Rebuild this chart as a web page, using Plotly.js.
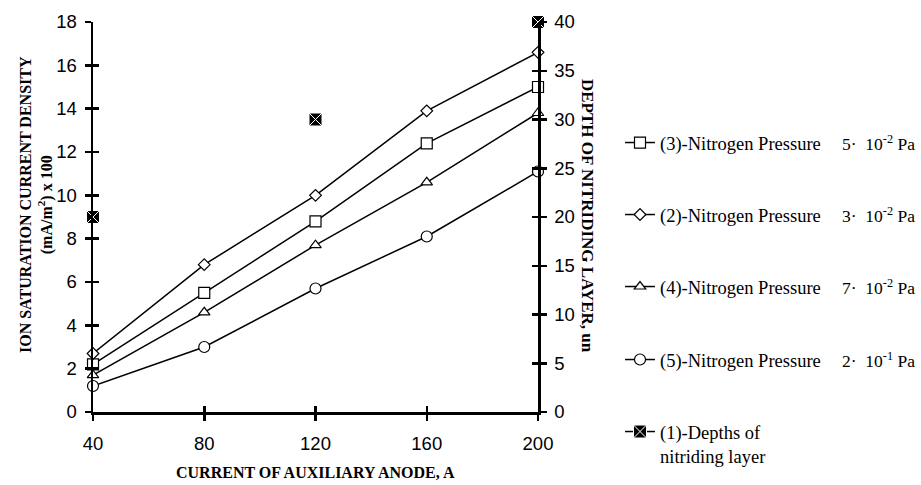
<!DOCTYPE html>
<html>
<head>
<meta charset="utf-8">
<script src="https://cdn.plot.ly/plotly-3.0.1.min.js"></script>
<style>html,body{margin:0;padding:0;background:#fff;}#chart{width:921px;height:485px;}</style>
</head>
<body>
<div id="chart"></div>
<script>
// ---- data ----
var current = [40, 80, 120, 160, 200];
var p3 = [2.2, 5.5, 8.8, 12.4, 15.0];   // 5·10^-2 Pa (square)
var p2 = [2.7, 6.8, 10.0, 13.9, 16.6];  // 3·10^-2 Pa (diamond)
var p4 = [1.7, 4.6, 7.7, 10.6, 13.8];   // 7·10^-2 Pa (triangle)
var p5 = [1.2, 3.0, 5.7, 8.1, 11.1];    // 2·10^-1 Pa (circle)
var depthCurrent = [40, 120, 200];
var depth = [20, 30, 40];               // depth of nitriding layer (right axis)
var seriesNames = ['(3)-Nitrogen Pressure', '(2)-Nitrogen Pressure', '(4)-Nitrogen Pressure', '(5)-Nitrogen Pressure', '(1)-Depths of<br>nitriding layer'];
var pressureLabels = ['5\u00b7  10<sup>-2</sup> Pa', '3\u00b7  10<sup>-2</sup> Pa', '7\u00b7  10<sup>-2</sup> Pa', '2\u00b7  10<sup>-1</sup> Pa'];
var xTicks = [40, 80, 120, 160, 200];
var leftTicks = [0, 2, 4, 6, 8, 10, 12, 14, 16, 18];
var rightTicks = [0, 5, 10, 15, 20, 25, 30, 35, 40];

// ---- geometry (pixels) ----
var W = 921, H = 485;
var L = 93, R = 538, T = 22, B = 412;
function px(xp) { return (xp - L) / (R - L); }
function py(yp) { return (B - yp) / (B - T); }

var serif = 'Liberation Serif, Times New Roman, serif';
var sans = 'Liberation Sans, Arial, sans-serif';
var lineW = 1.5;

function lineTrace(y, name, sym, size, leg) {
  return {
    x: current, y: y, name: name, type: 'scatter', mode: 'lines+markers',
    line: {color: '#000', width: lineW},
    marker: {symbol: sym, size: size, color: '#fff', line: {color: '#000', width: 1.2}},
    cliponaxis: false, legend: leg
  };
}

var depthMarker = {symbol: 'square-x', size: 13, color: '#000', line: {color: '#fff', width: 1}};

var traces = [
  lineTrace(p3, seriesNames[0], 'square', 11, 'legend'),
  lineTrace(p2, seriesNames[1], 'diamond', 9, 'legend2'),
  lineTrace(p4, seriesNames[2], 'triangle-up', 10, 'legend3'),
  lineTrace(p5, seriesNames[3], 'circle', 11, 'legend4'),
  {
    x: depthCurrent, y: depth, name: seriesNames[4], type: 'scatter', mode: 'markers',
    yaxis: 'y2', marker: depthMarker, cliponaxis: false, showlegend: false
  },
  // legend entry for the depth series (line + marker symbol, no data of its own)
  {
    x: [null], y: [null], name: seriesNames[4], type: 'scatter', mode: 'lines+markers', yaxis: 'y2',
    line: {color: '#000', width: lineW}, marker: depthMarker, legend: 'legend5', showlegend: true
  },
  // invisible helpers so the overlay tick axes are drawn
  {x: [40], y: [0], xaxis: 'x2', yaxis: 'y3', mode: 'markers', marker: {opacity: 0}, showlegend: false, hoverinfo: 'skip'},
  {x: [40], y: [0], xaxis: 'x2', yaxis: 'y4', mode: 'markers', marker: {opacity: 0}, showlegend: false, hoverinfo: 'skip'}
];

var axisCommon = {
  showgrid: false, zeroline: false, linecolor: '#000', linewidth: 2.5,
  tickcolor: '#000', tickwidth: 2.5, ticklen: 6, fixedrange: true
};

var legendRows = [143, 215, 287, 360, 432];
function legendCfg(yp) {
  return {
    xref: 'container', yref: 'container',
    x: 620 / W, y: 1 - (yp - 19) / H, xanchor: 'left', yanchor: 'top',
    font: {family: serif, size: 18.5, color: '#000'},
    bgcolor: 'rgba(0,0,0,0)', borderwidth: 0, itemwidth: 30, valign: 'top',
    itemclick: false, itemdoubleclick: false
  };
}

var annotations = [
  {xref: 'paper', yref: 'paper', x: px(36), y: py(205), xanchor: 'center', yanchor: 'middle',
   text: '<b>ION SATURATION CURRENT DENSITY<br>(mA/m<sup>2</sup>) x 100</b>', textangle: -90, showarrow: false,
   font: {family: serif, size: 16, color: '#000'}},
  {xref: 'paper', yref: 'paper', x: px(588), y: py(216), xanchor: 'center', yanchor: 'middle',
   text: '<b>DEPTH OF NITRIDING LAYER, un</b>', textangle: 90, showarrow: false,
   font: {family: serif, size: 17, color: '#000'}},
  {xref: 'paper', yref: 'paper', x: px(315), y: py(473), xanchor: 'center', yanchor: 'middle',
   text: '<b>CURRENT OF AUXILIARY ANODE, A</b>', showarrow: false,
   font: {family: serif, size: 16, color: '#000'}}
];
for (var i = 0; i < pressureLabels.length; i++) {
  annotations.push({xref: 'paper', yref: 'paper', x: px(840), y: py(legendRows[i]), xanchor: 'left', yanchor: 'middle',
    text: pressureLabels[i], showarrow: false, font: {family: serif, size: 17.5, color: '#000'}});
}

var layout = {
  width: W, height: H,
  margin: {l: L, r: W - R, t: T, b: H - B, pad: 0},
  paper_bgcolor: '#fff', plot_bgcolor: '#fff',
  showlegend: true,
  xaxis: Object.assign({}, axisCommon, {range: [40, 200], tickvals: xTicks, ticks: 'outside',
    tickfont: {family: sans, size: 18.5, color: '#000'}, ticklabelstandoff: 7}),
  xaxis2: Object.assign({}, axisCommon, {range: [40, 200], tickvals: xTicks, ticks: 'inside', overlaying: 'x',
    showticklabels: false, showline: false}),
  yaxis: Object.assign({}, axisCommon, {range: [0, 18], tickvals: leftTicks, ticks: 'outside',
    tickfont: {family: sans, size: 18.5, color: '#000'}, ticklabelstandoff: 4}),
  yaxis2: Object.assign({}, axisCommon, {range: [0, 40], tickvals: rightTicks, ticks: 'outside', side: 'right', overlaying: 'y',
    tickfont: {family: sans, size: 18.5, color: '#000'}, ticklabelstandoff: 4}),
  yaxis3: Object.assign({}, axisCommon, {range: [0, 18], tickvals: leftTicks, ticks: 'inside', overlaying: 'y',
    showticklabels: false, showline: false}),
  yaxis4: Object.assign({}, axisCommon, {range: [0, 40], tickvals: rightTicks, ticks: 'inside', overlaying: 'y', side: 'right',
    showticklabels: false, showline: false}),
  legend: legendCfg(legendRows[0]),
  legend2: legendCfg(legendRows[1]),
  legend3: legendCfg(legendRows[2]),
  legend4: legendCfg(legendRows[3]),
  legend5: legendCfg(legendRows[4]),
  annotations: annotations
};

Plotly.newPlot('chart', traces, layout, {displayModeBar: false, staticPlot: true});
</script>
</body>
</html>
